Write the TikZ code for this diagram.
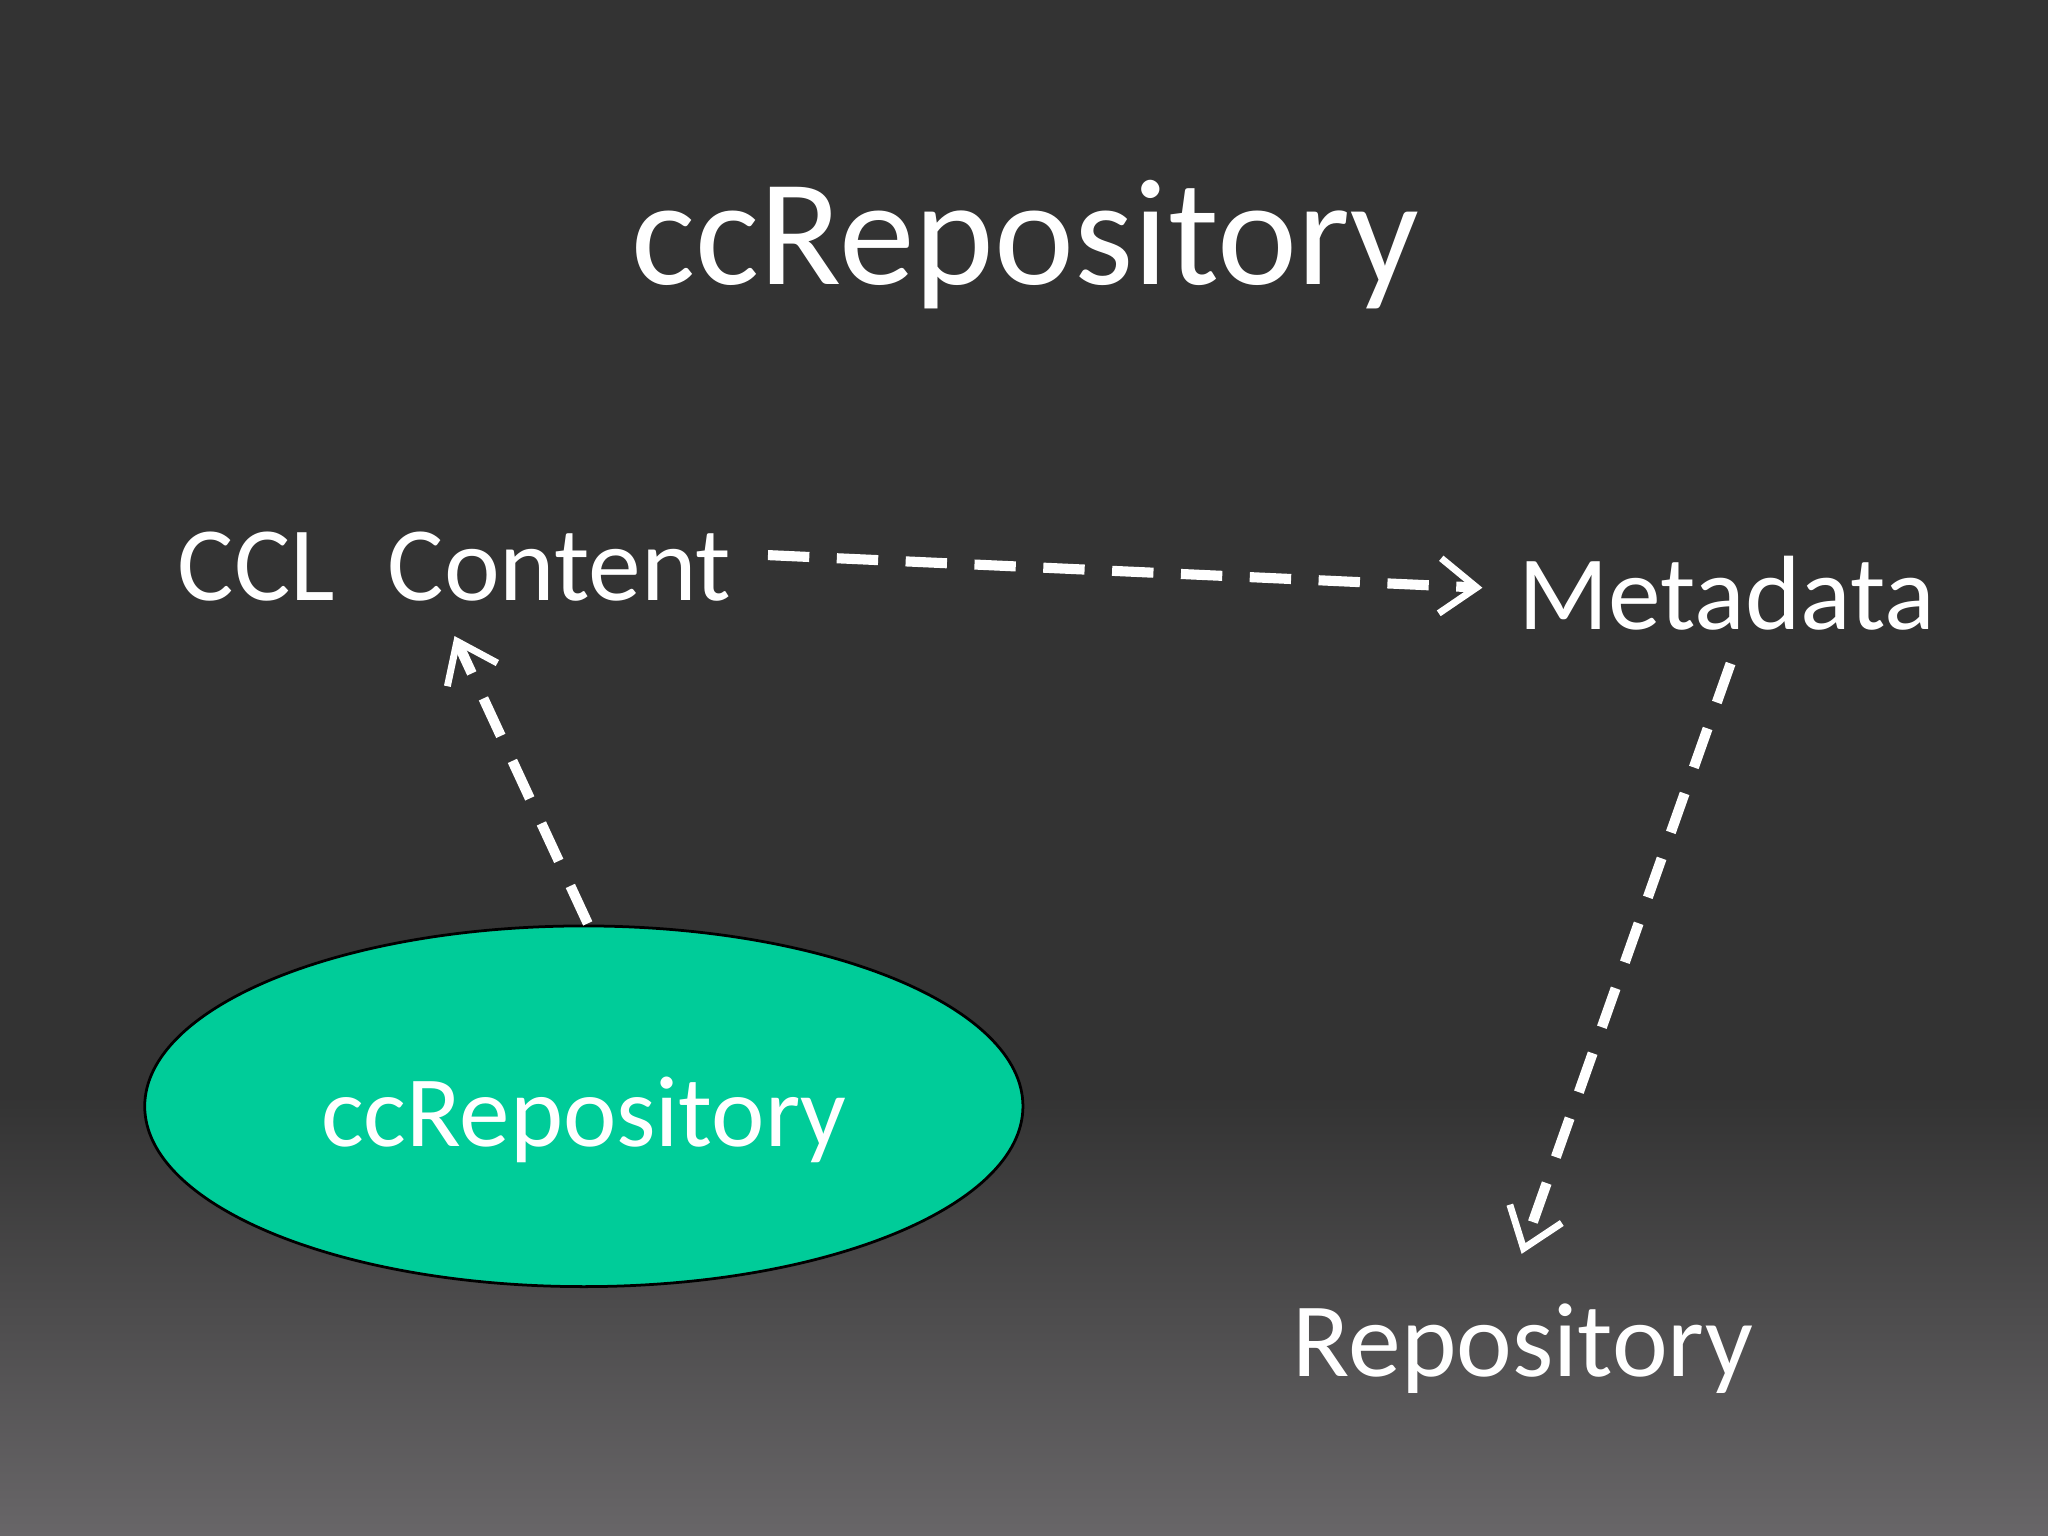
\documentclass[tikz,border=0pt]{standalone}
\usepackage{fontspec}
\setmainfont{Carlito}
\usetikzlibrary{arrows.meta,shapes.geometric}
\definecolor{bgtop}{HTML}{333333}
\definecolor{bgbot}{HTML}{686668}
\definecolor{ellfill}{HTML}{00CC99}
\begin{document}
\begin{tikzpicture}[x=0.01cm,y=-0.01cm,
  lbl/.style={text=white,font=\fontsize{23}{27}\selectfont,anchor=base,inner sep=0},
  dasharrow/.style={draw=white,line width=2.2pt,dash pattern=on 9pt off 6pt,-{Straight Barb[length=8pt,width=12pt,line width=1.5pt]}}]
\useasboundingbox (0,0) rectangle (1568,1176);
\fill[bgtop] (0,0) rectangle (1568,840);
\shade[top color=bgtop,bottom color=bgbot] (0,839) rectangle (1568,1176);
\node[lbl,font=\fontsize{33}{38}\selectfont] (title) at (785,218) {ccRepository};
\node[lbl] (ccl) at (348,460) {CCL\; Content};
\node[lbl] (meta) at (1322,482) {Metadata};
\node[lbl] (repo) at (1166,1054) {Repository};
\node[ellipse,fill=ellfill,draw=black,line width=0.6pt,minimum width=6.72cm,minimum height=2.76cm,inner sep=0] (ell) at (447,847) {};
\node[lbl,font=\fontsize{22}{26}\selectfont] (elltxt) at (447,878) {ccRepository};
\coordinate (a1) at (588,425); \coordinate (a2) at (1135,450);
\coordinate (b1) at (450,707); \coordinate (b2) at (348,487);
\coordinate (c1) at (1325,508); \coordinate (c2) at (1165,960);
\draw[dasharrow] (a1) -- (a2);
\draw[dasharrow] (b1) -- (b2);
\draw[dasharrow] (c1) -- (c2);
\end{tikzpicture}
\end{document}
